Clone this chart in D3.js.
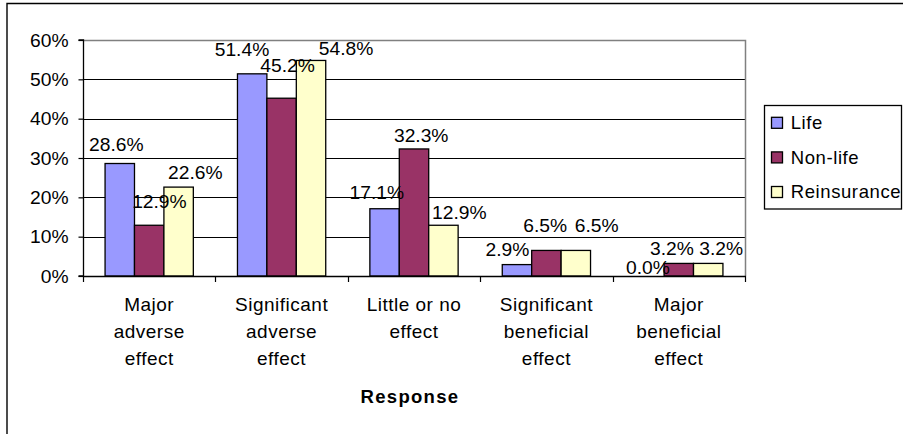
<!DOCTYPE html>
<html>
<head>
<meta charset="utf-8">
<script src="https://cdn.jsdelivr.net/npm/d3@7"></script>
<style>
  html, body { margin: 0; padding: 0; background: #fff; overflow: hidden; }
  svg { display: block; font-family: "Liberation Sans", Arial, sans-serif; }
</style>
</head>
<body>
<svg id="chart" width="903" height="434"></svg>
<script>
// Survey responses by business line (share of respondents, %)
const categories = [
  ["Major", "adverse", "effect"],
  ["Significant", "adverse", "effect"],
  ["Little or no", "effect"],
  ["Significant", "beneficial", "effect"],
  ["Major", "beneficial", "effect"]
];
const seriesNames = ["Life", "Non-life", "Reinsurance"];
const lifeValues = [28.6, 51.4, 17.1, 2.9, 0.0];
const nonLifeValues = [12.9, 45.2, 32.3, 6.5, 3.2];
const reinsuranceValues = [22.6, 54.8, 12.9, 6.5, 3.2];
const yTicks = [0, 10, 20, 30, 40, 50, 60];
const axisTitle = "Response";

const colors = ["#9999FF", "#993366", "#FFFFCC"];
const seriesValues = [lifeValues, nonLifeValues, reinsuranceValues];

// Label nudges (dx, dy from bar centre / bar top), one row per series
const labelShift = [
  [[-3.5, -12.7], [-10.2, -18], [-7.7, -9.3], [-9.6, -8.3], [-1.5, -2.4]],
  [[10.2, -17.7], [6, -26.5], [7.2, -7.4], [-1.2, -18], [-6.9, -8]],
  [[16.7, -7.7], [35, -5.5], [15.9, -6.6], [20.9, -18], [13, -8]]
];

const svg = d3.select("#chart");
const plot = { left: 83, right: 745, top: 40, bottom: 276 };

const catKeys = categories.map((c, i) => i);
const x0 = d3.scaleBand().domain(catKeys).range([plot.left, plot.right]).paddingInner(0).paddingOuter(0);
const x1 = d3.scaleBand().domain(d3.range(seriesNames.length)).range([0, x0.bandwidth()])
  .paddingInner(0).paddingOuter(0.75);
const y = d3.scaleLinear().domain([0, 60]).range([plot.bottom, plot.top]);

// Outer chart frame
svg.append("path")
  .attr("d", `M7,434 L7,3.5 L903,3.5`)
  .attr("fill", "none").attr("stroke", "#000").attr("stroke-width", 1.4);

// Gridlines
svg.append("g").selectAll("line")
  .data(yTicks.filter(t => t > 0 && t < 60))
  .join("line")
  .attr("x1", plot.left).attr("x2", plot.right)
  .attr("y1", d => Math.round(y(d)) + 0.5).attr("y2", d => Math.round(y(d)) + 0.5)
  .attr("stroke", "#000").attr("stroke-width", 1);

// Plot area top/right border (grey)
svg.append("path")
  .attr("d", `M${plot.left},${plot.top + 0.5} L${plot.right + 0.5},${plot.top + 0.5} L${plot.right + 0.5},${plot.bottom}`)
  .attr("fill", "none").attr("stroke", "#808080").attr("stroke-width", 1.5);

// Bars
seriesValues.forEach((vals, s) => {
  svg.append("g").selectAll("rect")
    .data(vals)
    .join("rect")
    .attr("x", (d, i) => x0(i) + x1(s))
    .attr("y", d => y(d))
    .attr("width", x1.bandwidth())
    .attr("height", d => y(0) - y(d))
    .attr("fill", colors[s])
    .attr("stroke", "#000")
    .attr("stroke-width", 1.3);
});

// Y axis
const yAxis = d3.axisLeft(y).tickValues(yTicks).tickSize(5).tickFormat(d => d + "%");
const gy = svg.append("g").attr("transform", `translate(${plot.left + 0.5},0)`).call(yAxis);
gy.select(".domain").attr("stroke", "#000").attr("stroke-width", 1.3).attr("d", `M-5,${plot.top}H0V${plot.bottom}H-5`);
gy.selectAll(".tick line").attr("stroke", "#000").attr("stroke-width", 1.2);
gy.selectAll(".tick text")
  .attr("x", null).attr("dy", null)
  .attr("font-size", 17.5).attr("fill", "#000")
  .attr("text-anchor", "end")
  .attr("transform", "translate(-15,6) scale(1.1,1)")
  .attr("font-family", "'Liberation Sans', Arial, sans-serif");

// X axis
svg.append("line")
  .attr("x1", plot.left).attr("x2", plot.right + 1)
  .attr("y1", plot.bottom + 0.5).attr("y2", plot.bottom + 0.5)
  .attr("stroke", "#000").attr("stroke-width", 1.3);
const boundaries = catKeys.map(i => x0(i)).concat([plot.right]);
svg.append("g").selectAll("line")
  .data(boundaries)
  .join("line")
  .attr("x1", d => Math.round(d) + 0.5).attr("x2", d => Math.round(d) + 0.5)
  .attr("y1", plot.bottom).attr("y2", plot.bottom + 6)
  .attr("stroke", "#000").attr("stroke-width", 1.2);

// Category labels
const catG = svg.append("g");
categories.forEach((lines, i) => {
  const t = catG.append("text")
    .attr("x", x0(i) + x0.bandwidth() / 2)
    .attr("y", plot.bottom + 34.7)
    .attr("text-anchor", "middle")
    .attr("font-size", 19)
    .attr("letter-spacing", 0.5)
    .attr("fill", "#000");
  lines.forEach((ln, k) => {
    t.append("tspan")
      .attr("x", x0(i) + x0.bandwidth() / 2)
      .attr("dy", k === 0 ? 0 : 27.2)
      .text(ln);
  });
});

// Axis title
svg.append("text")
  .attr("x", (plot.left + plot.right) / 2 - 4)
  .attr("y", 402.7)
  .attr("text-anchor", "middle")
  .attr("font-size", 18.5)
  .attr("font-weight", "bold")
  .attr("letter-spacing", 1.3)
  .attr("fill", "#000")
  .text(axisTitle);

// Value labels
seriesValues.forEach((vals, s) => {
  svg.append("g").selectAll("text")
    .data(vals)
    .join("text")
    .attr("transform", (d, i) => {
      const cx = x0(i) + x1(s) + x1.bandwidth() / 2 + labelShift[s][i][0];
      const by = y(d) + labelShift[s][i][1];
      return `translate(${cx},${by}) scale(1.1,1)`;
    })
    .attr("text-anchor", "middle")
    .attr("font-size", 17.5)
    .attr("fill", "#000")
    .text(d => d.toFixed(1) + "%");
});

// Legend
const legend = svg.append("g");
legend.append("rect")
  .attr("x", 764.5).attr("y", 105.5)
  .attr("width", 137).attr("height", 103.5)
  .attr("fill", "#fff").attr("stroke", "#000").attr("stroke-width", 1.3);
seriesNames.forEach((name, s) => {
  const top = 117.3 + s * 34.6;
  legend.append("rect")
    .attr("x", 771.5).attr("y", top)
    .attr("width", 11).attr("height", 11)
    .attr("fill", colors[s]).attr("stroke", "#000").attr("stroke-width", 1.3);
  legend.append("text")
    .attr("x", 790.7).attr("y", top + 11.8)
    .attr("font-size", 18.5)
    .attr("letter-spacing", 0.6)
    .attr("fill", "#000")
    .text(name);
});
</script>
</body>
</html>
